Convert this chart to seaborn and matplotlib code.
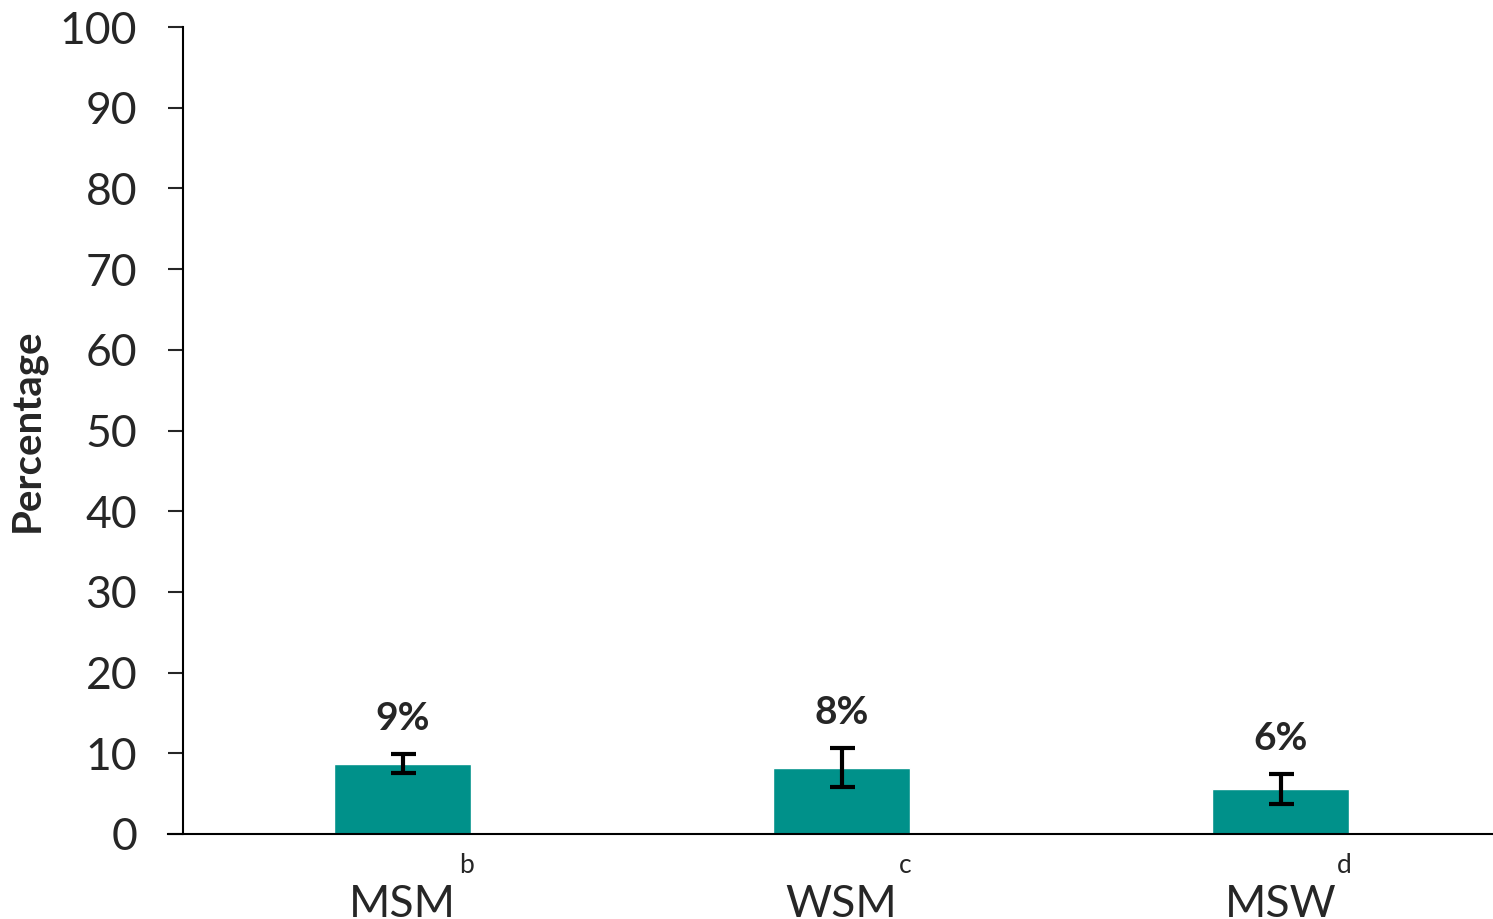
import seaborn as sns
import matplotlib.pyplot as plt
import numpy as np
import pandas as pd

groups = ["MSM", "WSM", "MSW"]
notes = ["b", "c", "d"]
values = [8.7, 8.2, 5.6]
ci_low = [7.6, 5.8, 3.7]
ci_high = [9.9, 10.7, 7.4]
bar_labels = ["9%", "8%", "6%"]

TEAL = "#00918A"

sns.set_style("white")
plt.rcParams["font.family"] = ["Lato", "DejaVu Sans"]

fig = plt.figure(figsize=(14.93, 9.19), dpi=100)
ax = fig.add_axes([183 / 1493, 1 - 834 / 919, (1500 - 183) / 1493, (834 - 27) / 919])

df = pd.DataFrame({"group": groups, "value": values})
sns.barplot(data=df, x="group", y="value", ax=ax, color=TEAL,
            saturation=1, width=0.31, errorbar=None)

x = np.arange(len(groups))
vals = np.array(values)
yerr = [vals - np.array(ci_low), np.array(ci_high) - vals]
ax.errorbar(x, vals, yerr=yerr, fmt="none", ecolor="black",
            elinewidth=3, capsize=9, capthick=3)

for xi, hi, lab in zip(x, ci_high, bar_labels):
    ax.annotate(lab, (xi, hi), xytext=(0, 13), textcoords="offset points",
                ha="center", va="bottom", fontsize=28, fontweight="bold")

ax.set_xlim(-0.5, 2.5)
ax.set_ylim(0, 100)
ax.set_yticks(range(0, 101, 10))
ax.tick_params(axis="y", labelsize=32, length=11, width=1.5, pad=22, left=True)
ax.tick_params(axis="x", labelsize=32, length=0, pad=36)
ax.set_xlabel("")
ax.set_ylabel("Percentage", fontsize=29, fontweight="bold", labelpad=10)

# superscript notes beside the category names
for xi, n in zip(x, notes):
    ax.annotate(n, (xi, 0), xytext=(46, -23), textcoords="offset points",
                ha="center", va="center", fontsize=19, annotation_clip=False)

for s in ["top", "right"]:
    ax.spines[s].set_visible(False)
for s in ["left", "bottom"]:
    ax.spines[s].set_color("black")
    ax.spines[s].set_linewidth(1.5)
ax.spines["bottom"].set_bounds(-0.5 - 15 / 439, 2.5)

fig.savefig("out.png", dpi=100)
